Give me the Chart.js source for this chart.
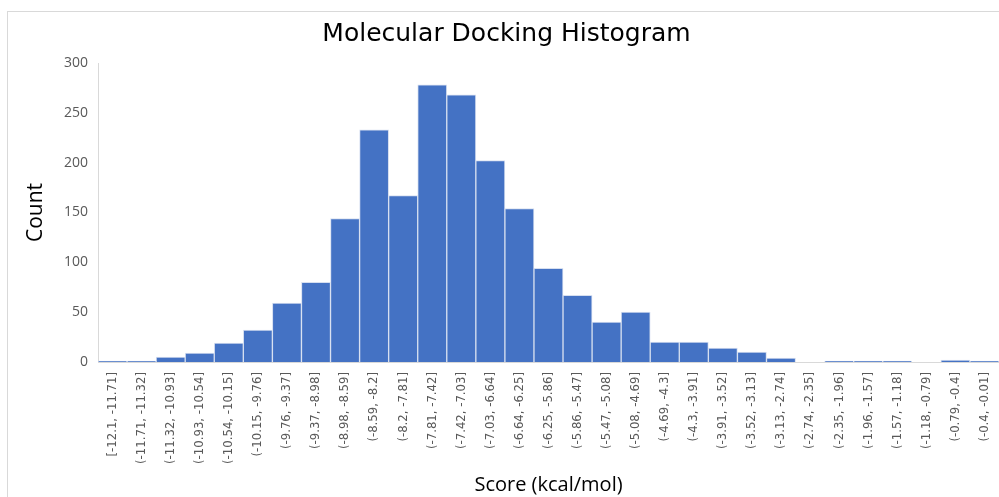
<!DOCTYPE html>
<html>
<head>
<meta charset="utf-8">
<script src="https://cdn.jsdelivr.net/npm/chart.js@4.4.0/dist/chart.umd.min.js"></script>
<style>
html,body{margin:0;padding:0;background:#fff;}
#wrap{width:999px;height:497px;position:relative;}
</style>
</head>
<body>
<div id="wrap"><canvas id="c" width="999" height="497"></canvas></div>
<script>
const chartTitle = "Molecular Docking Histogram";
const xTitle = "Score (kcal/mol)";
const yTitle = "Count";
const binLabels = [
  "[-12.1, -11.71]", "(-11.71, -11.32]", "(-11.32, -10.93]", "(-10.93, -10.54]",
  "(-10.54, -10.15]", "(-10.15, -9.76]", "(-9.76, -9.37]", "(-9.37, -8.98]",
  "(-8.98, -8.59]", "(-8.59, -8.2]", "(-8.2, -7.81]", "(-7.81, -7.42]",
  "(-7.42, -7.03]", "(-7.03, -6.64]", "(-6.64, -6.25]", "(-6.25, -5.86]",
  "(-5.86, -5.47]", "(-5.47, -5.08]", "(-5.08, -4.69]", "(-4.69, -4.3]",
  "(-4.3, -3.91]", "(-3.91, -3.52]", "(-3.52, -3.13]", "(-3.13, -2.74]",
  "(-2.74, -2.35]", "(-2.35, -1.96]", "(-1.96, -1.57]", "(-1.57, -1.18]",
  "(-1.18, -0.79]", "(-0.79, -0.4]", "(-0.4, -0.01]"
];
const counts = [1, 1, 5, 9, 19, 32, 59, 80, 144, 233, 167, 278, 268, 202, 154, 94,
  67, 40, 50, 20, 20, 14, 10, 4, 0, 1, 1, 1, 0, 2, 1];
const yMin = 0, yMax = 300, yStep = 50;

const framePlugin = {
  id: 'frame',
  beforeDraw(chart) {
    const ctx = chart.ctx;
    ctx.save();
    ctx.fillStyle = '#ffffff';
    ctx.fillRect(0, 0, chart.width, chart.height);
    ctx.strokeStyle = '#d9d9d9';
    ctx.lineWidth = 1;
    ctx.strokeRect(7.5, 11.5, chart.width + 10, chart.height + 10);
    ctx.restore();
  }
};

new Chart(document.getElementById('c'), {
  type: 'bar',
  data: {
    labels: binLabels,
    datasets: [{
      data: counts,
      backgroundColor: '#4472c4',
      borderColor: '#d6dff0',
      borderWidth: 1,
      barPercentage: 1,
      categoryPercentage: 1
    }]
  },
  options: {
    responsive: false,
    animation: false,
    devicePixelRatio: 1,
    layout: { padding: { left: 14, right: 0, top: 0, bottom: 0 } },
    plugins: {
      legend: { display: false },
      tooltip: { enabled: false },
      title: {
        display: true,
        text: chartTitle,
        color: '#000000',
        font: { family: "'DejaVu Sans', sans-serif", size: 25, weight: 'normal' },
        padding: { top: 19, bottom: 14 }
      }
    },
    scales: {
      x: {
        offset: true,
        grid: { display: false, drawTicks: false },
        border: { display: true, color: '#d9d9d9', width: 1 },
        ticks: {
          autoSkip: false,
          maxRotation: 90,
          minRotation: 90,
          padding: 10,
          color: '#595959',
          font: { family: "'Liberation Sans Narrow', 'DejaVu Sans Condensed', sans-serif", size: 13 }
        },
        title: {
          display: true,
          text: xTitle,
          color: '#000000',
          font: { family: 'Open Sans', size: 20 },
          padding: { top: 12, bottom: 0 }
        },
        afterFit(scale) { scale.height = 135; scale.paddingRight = 0; scale.paddingLeft = 0; }
      },
      y: {
        min: yMin,
        max: yMax,
        grid: { display: false, drawTicks: false },
        border: { display: true, color: '#d9d9d9', width: 1 },
        ticks: {
          stepSize: yStep,
          padding: 10,
          color: '#595959',
          font: { family: 'Open Sans', size: 14 }
        },
        title: {
          display: true,
          text: yTitle,
          color: '#000000',
          font: { family: 'Open Sans', size: 21 },
          padding: { top: 9, bottom: 0 }
        },
        afterFit(scale) { scale.width = 84; }
      }
    }
  },
  plugins: [framePlugin]
});
</script>
</body>
</html>
